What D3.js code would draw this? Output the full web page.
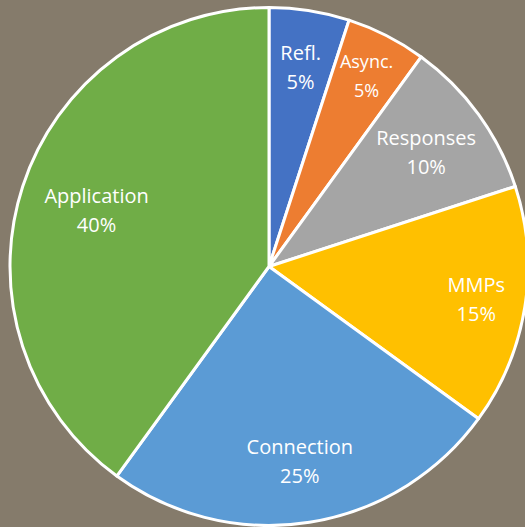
<!DOCTYPE html>
<html>
<head>
<meta charset="utf-8">
<script src="https://cdn.jsdelivr.net/npm/d3@7"></script>
<style>
  body { margin: 0; background: #857b6b; overflow: hidden; }
  svg { display: block; }
  .label { fill: #fff; font-family: "Open Sans", sans-serif; font-size: 20px; text-anchor: middle; }
</style>
</head>
<body>
<svg id="chart" width="525" height="527"></svg>
<script>
var categories = ["Refl.", "Async.", "Responses", "MMPs", "Connection", "Application"];
var values = [5, 5, 10, 15, 25, 40];
var colours = ["#4472c4", "#ed7d31", "#a5a5a5", "#ffc000", "#5b9bd5", "#70ad47"];

var radius = 259;

var data = categories.map(function(c, i){ return { name: c, value: values[i], colour: colours[i] }; });

// excel "best fit" puts labels at slightly different depths
var labelDepth = { "Refl.": 0.78, "Async.": 0.83, "Responses": 0.75, "MMPs": 0.81, "Connection": 0.76, "Application": 0.70 };

var svg = d3.select("#chart");
var g = svg.append("g")
	.attr("transform", "translate(269,266.5)");

var pie = d3.pie()
	.sort(null)
	.value(function(d){ return d.value; });

var arc = d3.arc()
	.innerRadius(0)
	.outerRadius(radius);

function labelPos(d){
	var r = radius * labelDepth[d.data.name];
	return d3.arc().innerRadius(r).outerRadius(r).centroid(d);
}

var slices = g.selectAll(".slice")
	.data(pie(data))
	.enter()
	.append("g")
	.attr("class", "slice");

slices.append("path")
	.attr("d", arc)
	.attr("fill", function(d){ return d.data.colour; })
	.attr("stroke", "#fff")
	.attr("stroke-width", 3)
	.attr("stroke-linejoin", "round");

var labels = slices.append("text")
	.attr("class", "label")
	.attr("transform", function(d){ return "translate(" + labelPos(d) + ")"; })
	.style("font-size", function(d){ return d.data.name == "Async." ? "18px" : null; });

labels.append("tspan")
	.attr("x", 0)
	.attr("y", -7)
	.text(function(d){ return d.data.name; });

labels.append("tspan")
	.attr("x", 0)
	.attr("y", 22)
	.text(function(d){ return d.data.value + "%"; });
</script>
</body>
</html>
